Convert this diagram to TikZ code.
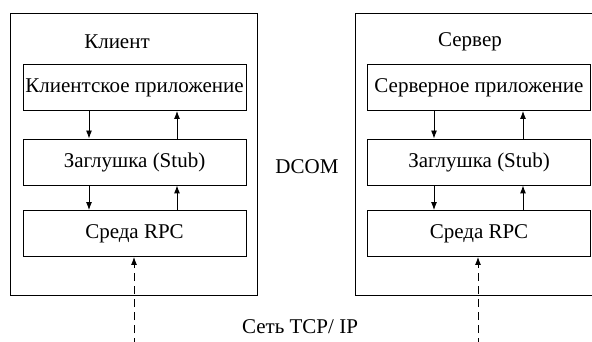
\documentclass[tikz,border=0pt]{standalone}
\usepackage{fontspec}
\setmainfont{Liberation Serif}
\newfontfamily\labelfont{Liberation Serif}
\usetikzlibrary{arrows.meta}
\tikzset{
    layer/.style={draw, line width=0.9pt, minimum width=223pt, minimum height=46pt, inner sep=0pt},
    host/.style={draw, line width=0.9pt, minimum width=247pt, minimum height=282pt, inner sep=0pt},
    flow/.style={-{Latex[length=8pt,width=6pt]}, line width=0.9pt},
    net/.style={flow, dash pattern=on 8pt off 5pt}
}
\begin{document}
\begin{tikzpicture}[x=1pt, y=-1pt, font=\labelfont\fontsize{21}{25}\selectfont]
    \useasboundingbox (0,0) rectangle (592,342);
    % client side
    \node[host] (client) at (133.5,154) {};
    \node (clientlbl) at (117,42) {Клиент};
    \node[layer] (capp) at (134.5,87.5) {Клиентское приложение};
    \node[layer] (cstub) at (134.5,162) {Заглушка (Stub)};
    \node[layer] (crpc) at (134.5,233.5) {Среда RPC};

    % server side
    \node[host] (server) at (478.5,154) {};
    \node (serverlbl) at (470,42) {Сервер};
    \node[layer] (sapp) at (479,87.5) {Серверное приложение};
    \node[layer] (sstub) at (479,162) {Заглушка (Stub)};
    \node[layer] (srpc) at (479,233.5) {Среда RPC};

    \node (dcom) at (307,167) {DCOM};
    \node (tcp) at (300,327) {Сеть TCP/ IP};

    % calls down, replies up
    \draw[flow] (capp.south -| 89,0) -- (cstub.north -| 89,0);
    \draw[flow] (cstub.north -| 177,0) -- (capp.south -| 177,0);
    \draw[flow] (cstub.south -| 89,0) -- (crpc.north -| 89,0);
    \draw[flow] (crpc.north -| 177,0) -- (cstub.south -| 177,0);
    \draw[flow] (sapp.south -| 434,0) -- (sstub.north -| 434,0);
    \draw[flow] (sstub.north -| 523,0) -- (sapp.south -| 523,0);
    \draw[flow] (sstub.south -| 434,0) -- (srpc.north -| 434,0);
    \draw[flow] (srpc.north -| 523,0) -- (sstub.south -| 523,0);

    % network
    \coordinate (cnet) at (134,346);
    \coordinate (snet) at (478,346);
    \draw[net] (cnet) -- (crpc.south -| cnet);
    \draw[net] (snet) -- (srpc.south -| snet);
\end{tikzpicture}
\end{document}
